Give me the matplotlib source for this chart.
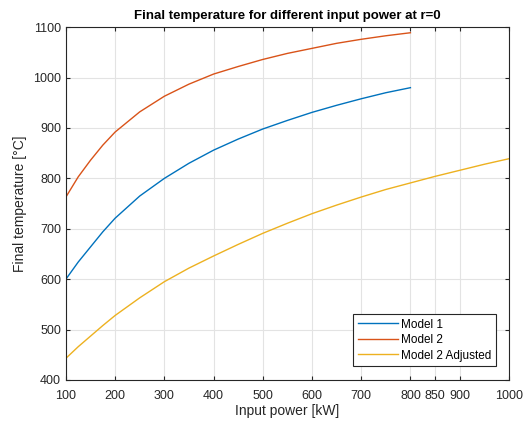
import matplotlib.pyplot as plt

plt.rcParams["font.family"] = ["Liberation Sans", "DejaVu Sans"]

# values
power_m = [100, 125, 150, 175, 200, 250, 300, 350, 400, 450, 500, 550, 600, 650, 700, 750, 800]
model1 = [600, 634, 664, 694, 721, 765, 800, 830, 856, 878, 898, 915, 931, 945, 958, 970, 980]
model2 = [763, 803, 836, 866, 892, 932, 963, 987, 1007, 1022, 1036, 1048, 1058, 1068, 1076, 1083, 1089]

power_adj = [100, 125, 150, 175, 200, 250, 300, 350, 400, 450, 500, 550, 600, 650, 700, 750,
             800, 850, 900, 950, 1000]
model2_adj = [443, 466, 487, 508, 528, 563, 595, 622, 646, 669, 691, 711, 730, 747, 763, 778,
              791, 804, 816, 828, 839]

xticks = [100, 200, 300, 400, 500, 600, 700, 800, 850, 900, 1000]
yticks = [400, 500, 600, 700, 800, 900, 1000, 1100]

fig = plt.figure(figsize=(5.23, 4.23), dpi=100)
ax = fig.add_axes([0.126, 0.1017, 0.847, 0.834])

ax.plot(power_m, model1, color=(0, 0.447, 0.741), lw=1.0, label="Model 1")
ax.plot(power_m, model2, color=(0.85, 0.325, 0.098), lw=1.0, label="Model 2")
ax.plot(power_adj, model2_adj, color=(0.929, 0.694, 0.125), lw=1.0, label="Model 2 Adjusted")

ax.set_xlim(100, 1000)
ax.set_ylim(400, 1100)
ax.set_xticks(xticks)
ax.set_yticks(yticks)
ax.grid(True, color="#e3e3e3", lw=0.8)
ax.set_axisbelow(True)
ax.tick_params(direction="in", top=True, right=True, labelsize=9, colors="#262626", length=3)
ax.tick_params(axis="x", pad=7)
for s in ax.spines.values():
    s.set_color("#262626")
    s.set_linewidth(0.8)

ax.set_xlabel("Input power [kW]", fontsize=10, color="#262626", labelpad=2)
ax.set_ylabel("Final temperature [°C]", fontsize=10, color="#262626")
ax.set_title("Final temperature for different input power at r=0", fontsize=9.5,
             fontweight="bold", pad=6)

leg = ax.legend(loc="lower right", bbox_to_anchor=(0.985, 0.022), fontsize=8.5,
                fancybox=False, edgecolor="#262626", framealpha=1,
                handlelength=3.4, handletextpad=0.3, borderpad=0.4, labelspacing=0.3)
leg.get_frame().set_linewidth(0.8)

fig.savefig("out.png", dpi=100)
